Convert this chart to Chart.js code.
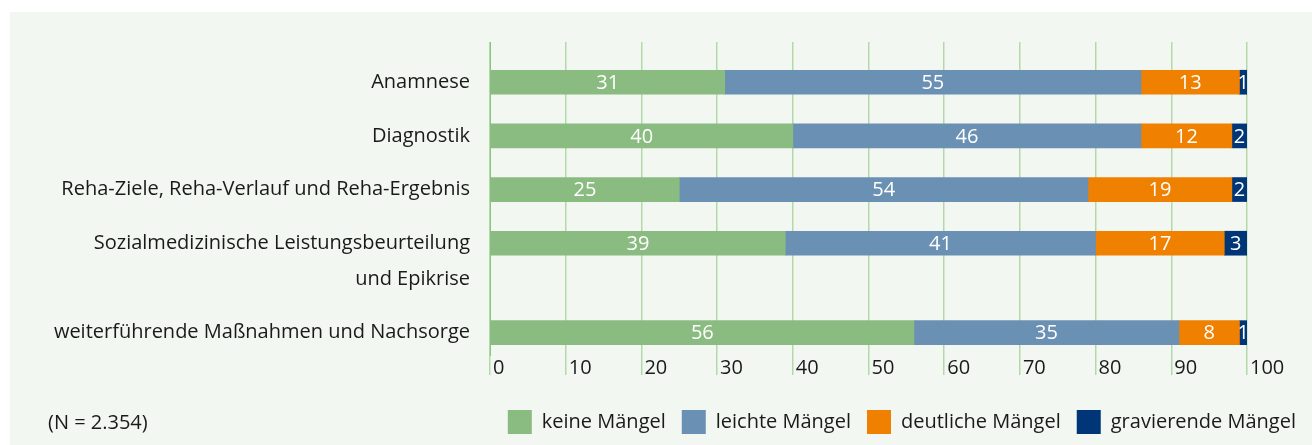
<!DOCTYPE html>
<html><head><meta charset="utf-8">
<script src="https://cdn.jsdelivr.net/npm/chart.js@4.4.0/dist/chart.umd.min.js"></script>
<style>
html,body{margin:0;padding:0;background:#fff;width:1312px;height:445px;overflow:hidden}
#panel{position:absolute;left:10px;top:12px;width:1302px;height:433px;background:#f2f7f1}
#wrap{position:absolute;left:0;top:0;width:1312px;height:445px}
#note{position:absolute;left:48px;top:410px;font:20px/24px "Open Sans";color:#1a1a1a}
</style></head>
<body>
<div id="panel"></div>
<div id="wrap"><canvas id="c" width="1312" height="445"></canvas></div>
<div id="note">(N = 2.354)</div>
<script>
const categories = [
  "Anamnese",
  "Diagnostik",
  "Reha-Ziele, Reha-Verlauf und Reha-Ergebnis",
  ["Sozialmedizinische Leistungsbeurteilung", "und Epikrise"],
  "weiterführende Maßnahmen und Nachsorge"
];
const seriesNames = ["keine Mängel", "leichte Mängel", "deutliche Mängel", "gravierende Mängel"];
const keineMaengel = [31, 40, 25, 39, 56];
const leichteMaengel = [55, 46, 54, 41, 35];
const deutlicheMaengel = [13, 12, 19, 17, 8];
const gravierendeMaengel = [1, 2, 2, 3, 1];
const xTickValues = [0, 10, 20, 30, 40, 50, 60, 70, 80, 90, 100];
const seriesColors = ["#8abb80", "#6a91b3", "#ef8000", "#003578"];

// vertical layout slots (category rows are not evenly spaced in the original)
const SLOT_COUNT = 35;
const categorySlot = [4, 10, 16, 22, 32];
const LINE_SLOTS = 4;

const slotLabels = new Array(SLOT_COUNT).fill("");
categories.forEach((c, i) => {
  const lines = Array.isArray(c) ? c : [c];
  lines.forEach((l, k) => { slotLabels[categorySlot[i] + k * LINE_SLOTS] = l; });
});
function toSlots(values) {
  const arr = new Array(SLOT_COUNT).fill(null);
  values.forEach((v, i) => { arr[categorySlot[i]] = v; });
  return arr;
}
const seriesValues = [keineMaengel, leichteMaengel, deutlicheMaengel, gravierendeMaengel];

const FONT = "'Open Sans'";
const TEXT = "#1a1a1a";

const valueLabels = {
  id: 'valueLabels',
  afterDatasetsDraw(chart) {
    const ctx = chart.ctx;
    ctx.save();
    ctx.fillStyle = '#ffffff';
    ctx.font = "20px " + FONT;
    ctx.textAlign = 'center';
    ctx.textBaseline = 'middle';
    chart.data.datasets.forEach((ds, di) => {
      const meta = chart.getDatasetMeta(di);
      meta.data.forEach((el, i) => {
        const v = ds.data[i];
        if (v === null || v === undefined) return;
        const p = el.getProps(['x', 'y', 'base'], true);
        ctx.fillText(String(v), (p.x + p.base) / 2, p.y + 1);
      });
    });
    ctx.restore();
  }
};

new Chart(document.getElementById('c'), {
  type: 'bar',
  data: {
    labels: slotLabels,
    datasets: seriesNames.map((n, i) => ({
      label: n,
      data: toSlots(seriesValues[i]),
      backgroundColor: seriesColors[i],
      borderWidth: 0,
      barThickness: 24
    }))
  },
  options: {
    indexAxis: 'y',
    responsive: false,
    animation: false,
    layout: { padding: { left: 10, right: 0, top: 42, bottom: 1 } },
    scales: {
      x: {
        stacked: true, min: 0, max: 100,
        afterBuildTicks: s => { s.ticks = xTickValues.map(v => ({ value: v })); },
        afterFit: s => { s.height = 39; s.paddingRight = 65; s.paddingLeft = 0; },
        ticks: { align: 'start', labelOffset: 3, padding: -19, color: TEXT, font: { size: 20, family: FONT } },
        grid: { color: '#b3d9ab', lineWidth: 1.5, drawTicks: true, tickLength: 20 },
        border: { display: false }
      },
      y: {
        stacked: true,
        afterFit: s => { s.width = 480; },
        grid: { display: false, drawTicks: false },
        border: { display: true, color: '#8cc283', width: 1 },
        ticks: { autoSkip: false, padding: 20, color: TEXT, font: { size: 20, family: FONT } }
      }
    },
    plugins: {
      legend: {
        position: 'bottom', align: 'end',
        labels: { boxWidth: 24, boxHeight: 24, padding: 16, color: TEXT, font: { size: 20, family: FONT } }
      },
      tooltip: { enabled: false }
    }
  },
  plugins: [valueLabels]
});
</script>
</body></html>
